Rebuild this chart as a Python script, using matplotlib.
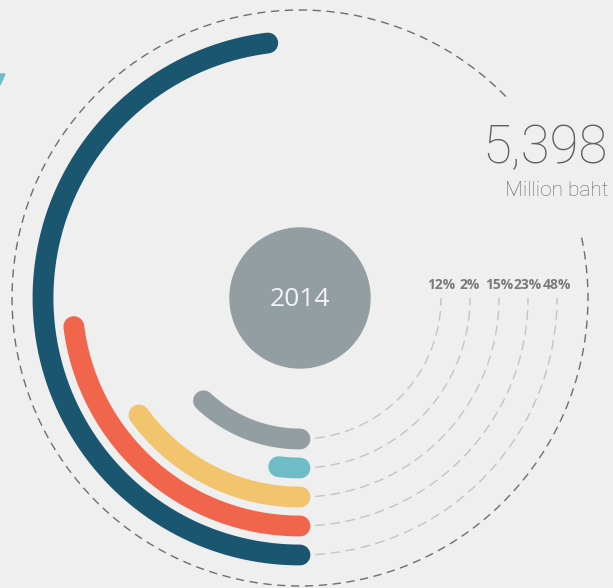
import numpy as np
import matplotlib.pyplot as plt
from matplotlib.patches import Circle, Arc, Polygon

# shares of the 2014 total, innermost ring first
labels = ['12%', '2%', '15%', '23%', '48%']
shares = [12, 2, 15, 23, 48]
colors = ['#939ea2', '#6fbcc6', '#f2c46e', '#f2654d', '#1b5670']
radii = [141, 170, 199, 228, 257]

total_value = '5,398'
total_unit = 'Million baht'
year = '2014'

bg = '#efefef'

fig = plt.figure(figsize=(6.13, 5.88), dpi=100, facecolor=bg)
ax = fig.add_axes([0, 0, 1, 1])
ax.set_facecolor(bg)
ax.set_xlim(-300, 313)
ax.set_ylim(-290, 298)
ax.set_aspect('equal')
ax.axis('off')

# rings start at 6 o'clock and run clockwise through the left side
for lab, share, col, r in zip(labels, shares, colors, radii):
    sweep = 360 * share / 100
    t = np.radians(np.linspace(-90, -90 - sweep, 200))
    ax.plot(r * np.cos(t), r * np.sin(t), color=col, lw=15,
            solid_capstyle='round', zorder=3)
    # thin leader from the ring start round to the label
    t2 = np.radians(np.linspace(-90, 0, 200))
    ax.plot(r * np.cos(t2), r * np.sin(t2), color='#c4c4c4', lw=1,
            dashes=(7, 4), zorder=2)
    ax.text(r, 13, lab, ha='center', va='center', fontsize=10,
            fontweight='bold', color='#7a7a7a', family='Open Sans')

# outer dashed ring, open where the total sits
ax.add_patch(Arc((0, 0), 576, 576, theta1=44.4, theta2=372.7,
                 color='#6e6e6e', lw=1, ls=(0, (6, 4)), zorder=1))

ax.add_patch(Circle((0, 0), 70, color='#939ea2', zorder=4))
ax.text(0, -2, year, ha='center', va='center', fontsize=19,
        color='#f4f4f4', family='Open Sans', zorder=5)

ax.text(308, 150, total_value, ha='right', va='center', fontsize=38,
        color='#606060', family='Roboto', fontweight='light')
ax.text(308, 108, total_unit, ha='right', va='center', fontsize=15,
        color='#666666', family='Roboto', fontweight='light')

# small pointer at the left edge
ax.add_patch(Polygon([[-300, 224], [-295, 224], [-300, 213]],
                     closed=True, color='#6fbcc6', zorder=1))

fig.savefig('out.png', dpi=100, facecolor=bg)
